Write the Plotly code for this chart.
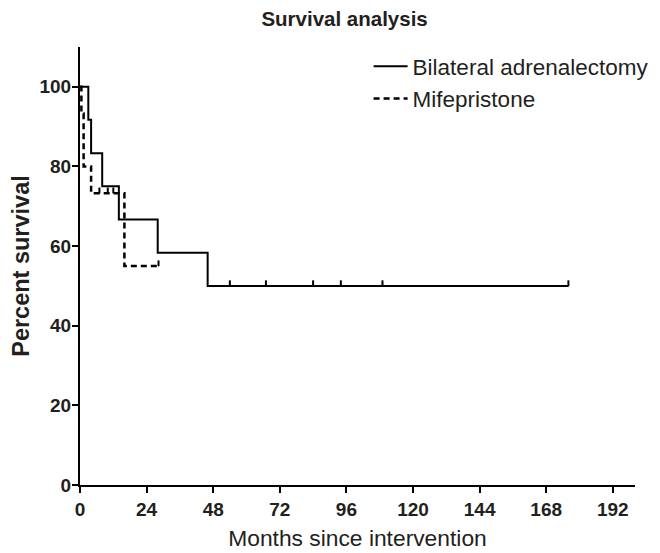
import plotly.graph_objects as go

# Kaplan-Meier steps (months, percent survival)
adx_months = [0, 3, 4, 8, 14, 28, 46, 176]
adx_surv = [100, 91.7, 83.3, 75, 66.7, 58.3, 50, 50]
adx_censor_months = [54, 67, 84, 94, 109, 176]
adx_censor_surv = [50, 50, 50, 50, 50, 50]

mif_months = [0, 0.5, 1.3, 4, 16, 28.3]
mif_surv = [100, 93.3, 80, 73.3, 55, 55]
mif_censor_months = [7, 10, 12, 28.3]
mif_censor_surv = [73.3, 73.3, 73.3, 55]

x_ticks = [0, 24, 48, 72, 96, 120, 144, 168, 192]
y_ticks = [0, 20, 40, 60, 80, 100]

FONT = "Liberation Sans, Arial, sans-serif"
TXT = "#231f20"
tick_h = 1.4

fig = go.Figure()
fig.add_trace(go.Scatter(x=adx_months, y=adx_surv, mode="lines", line_shape="hv",
                         line=dict(color="black", width=2), name="Bilateral adrenalectomy"))
fig.add_trace(go.Scatter(x=mif_months, y=mif_surv, mode="lines", line_shape="hv",
                         line=dict(color="black", width=2.5, dash="6px,4px"), name="Mifepristone"))
for xs, ys in [(adx_censor_months, adx_censor_surv), (mif_censor_months, mif_censor_surv)]:
    fig.add_trace(go.Scatter(x=xs, y=ys, mode="markers", marker=dict(size=1, color="black"),
                             showlegend=False, hoverinfo="skip",
                             error_y=dict(type="constant", value=tick_h, valueminus=0, symmetric=False,
                                          width=0, thickness=2, color="black")))

fig.update_layout(
    width=660, height=553,
    margin=dict(l=72, r=33, t=39, b=76, autoexpand=False),
    paper_bgcolor="white", plot_bgcolor="white",
    font=dict(family=FONT, color=TXT, size=17),
    title=dict(text="<b>Survival analysis</b>", x=0.51, xanchor="center", y=0.98, yanchor="middle",
               font=dict(size=20.5, family=FONT, color=TXT)),
    legend=dict(x=0.52, y=1.004, xanchor="left", yanchor="top", bgcolor="rgba(0,0,0,0)",
                font=dict(size=22.5, family=FONT, color=TXT), itemwidth=34),
    showlegend=True,
)
fig.update_xaxes(range=[0, 200], tickvals=x_ticks, ticktext=[str(v) for v in x_ticks],
                 showline=True, linecolor="black", linewidth=2, ticks="outside", ticklen=6,
                 tickwidth=2, tickcolor="black", showgrid=False, zeroline=False, automargin=False,
                 tickfont=dict(size=19, family=FONT, weight="bold", color=TXT),
                 title=dict(text="Months since intervention", font=dict(size=22.8, family=FONT, color=TXT), standoff=11))
fig.update_yaxes(range=[0, 110], tickvals=y_ticks, ticktext=[str(v) for v in y_ticks],
                 showline=True, linecolor="black", linewidth=2, ticks="outside", ticklen=6,
                 tickwidth=2, tickcolor="black", showgrid=False, zeroline=False, automargin=False,
                 ticklabelstandoff=-3,
                 tickfont=dict(size=19, family=FONT, weight="bold", color=TXT),
                 title=dict(text="<b>Percent survival</b>", font=dict(size=23.5, family=FONT, color=TXT), standoff=6))

fig.write_html("out.html")
